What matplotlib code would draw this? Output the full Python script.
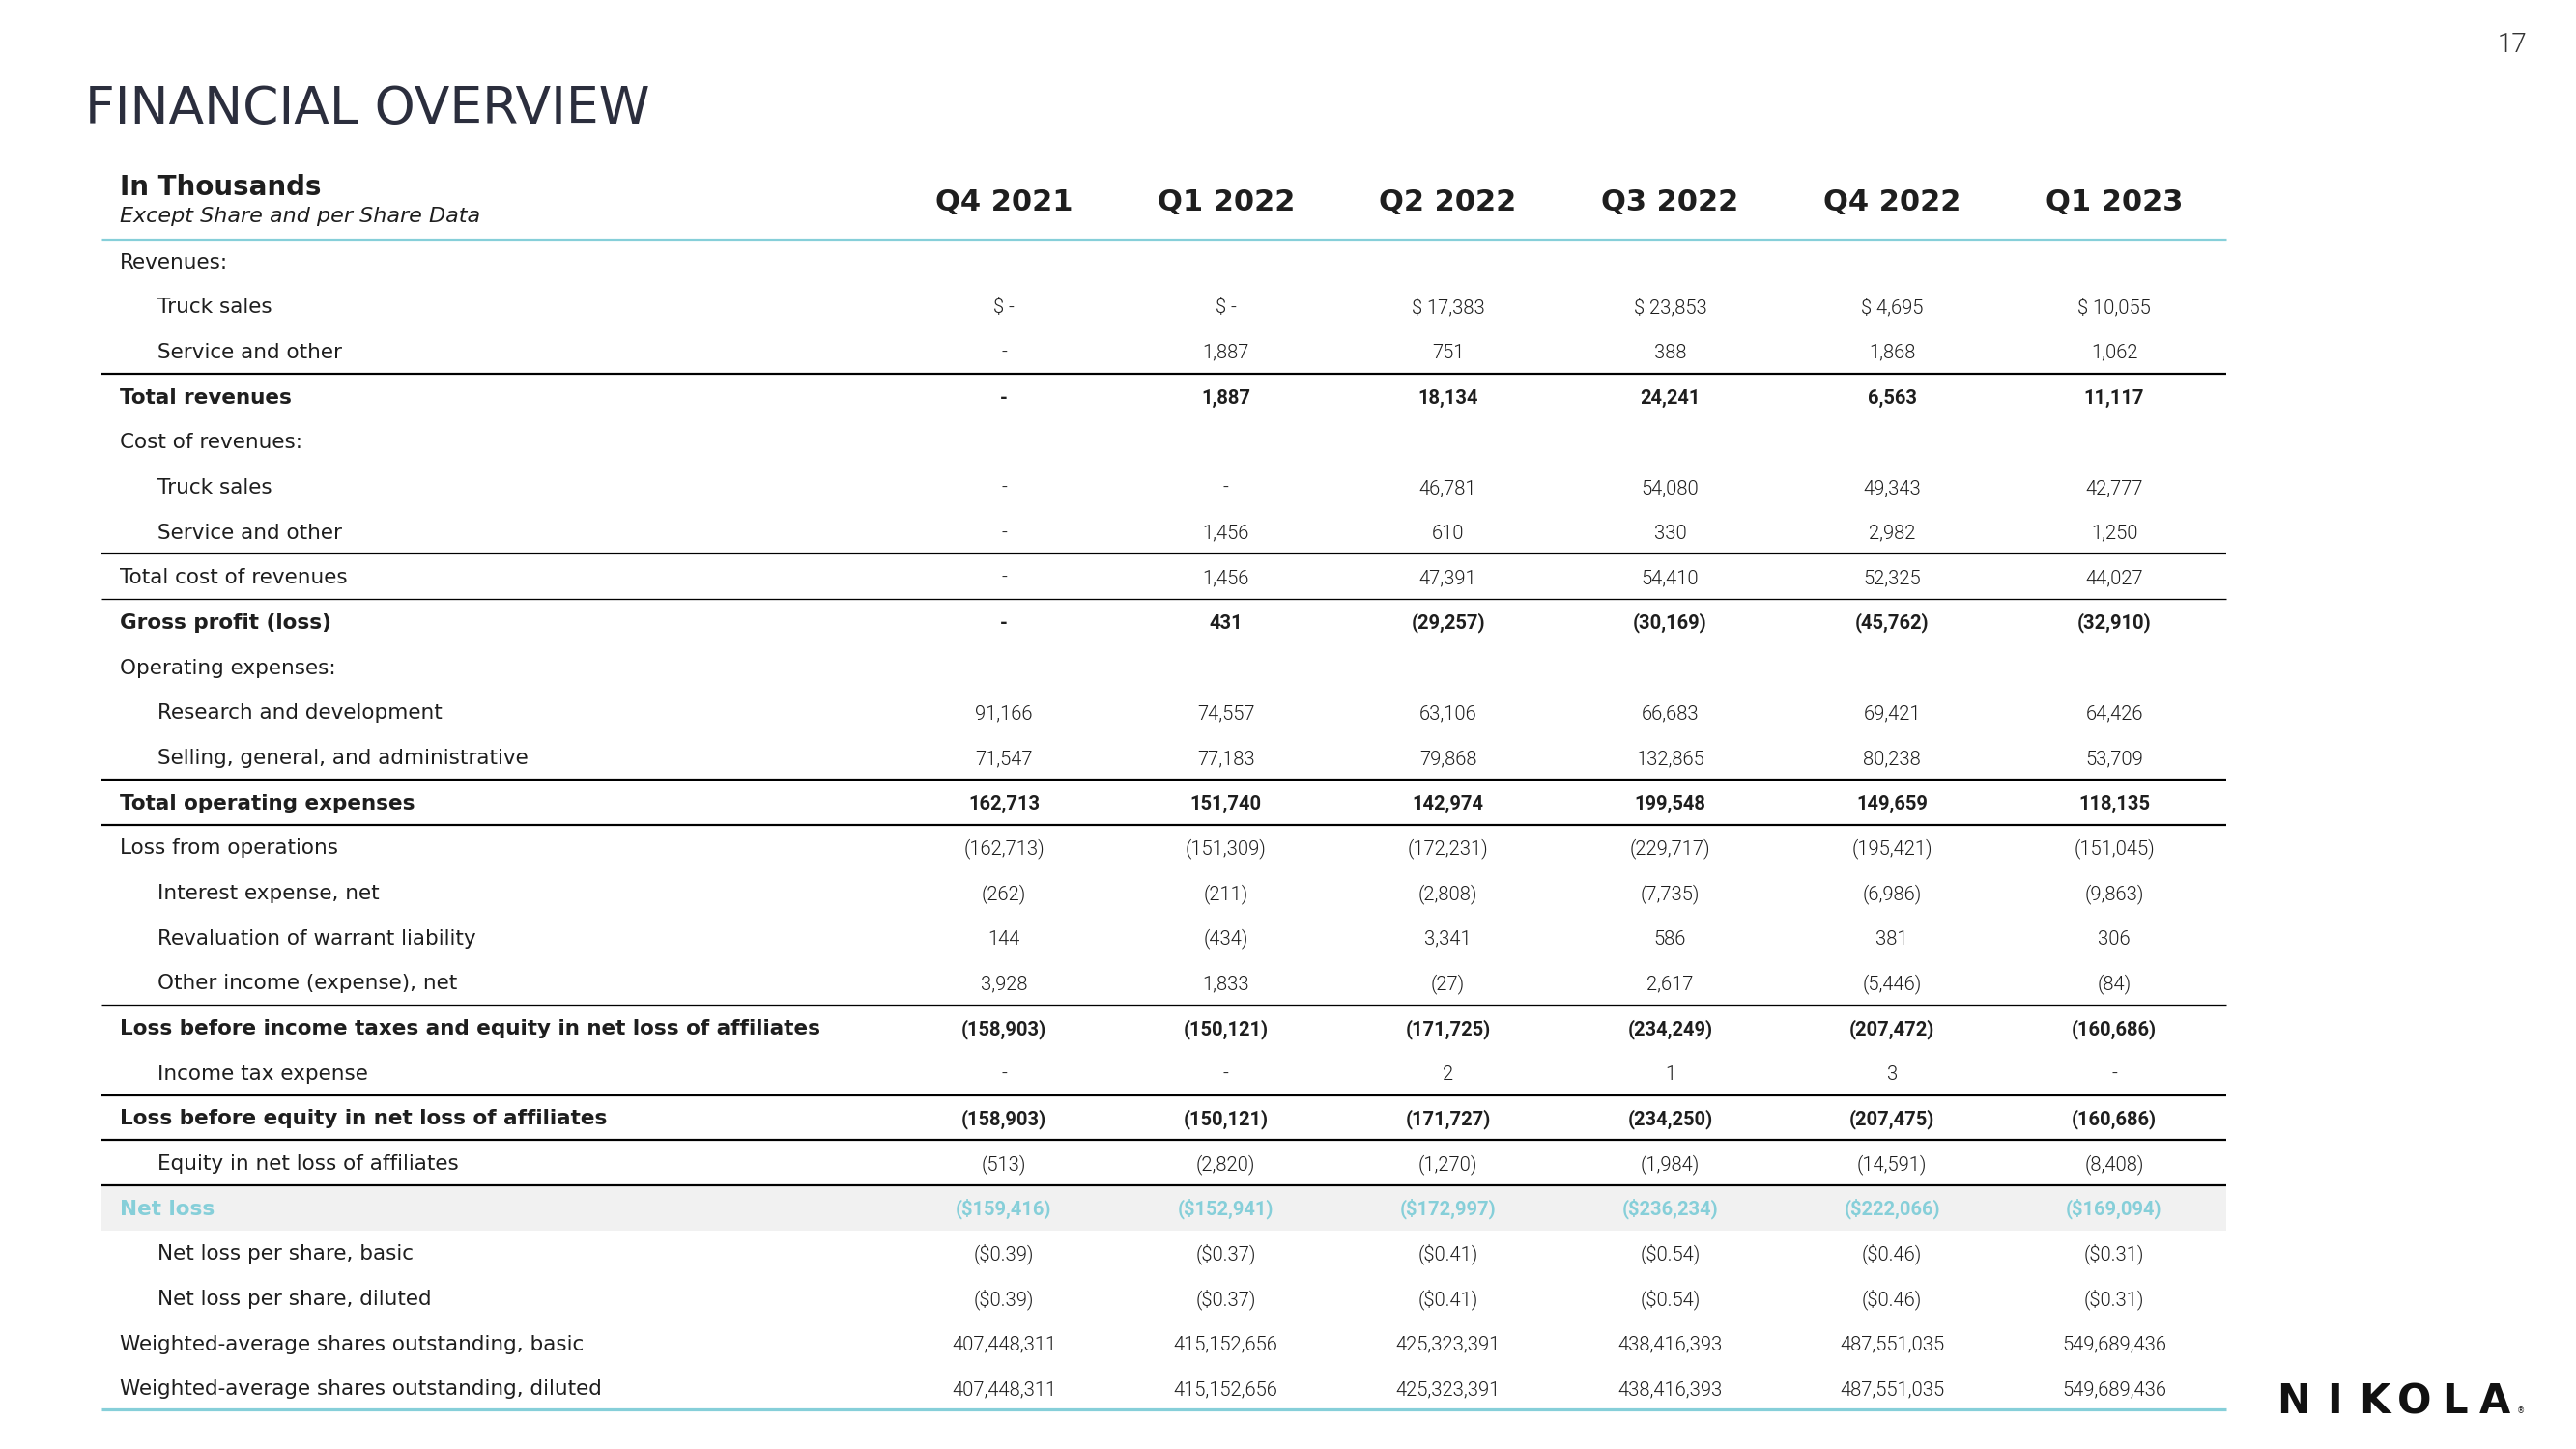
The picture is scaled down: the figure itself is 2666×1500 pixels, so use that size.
import matplotlib
matplotlib.use("Agg")
import matplotlib.pyplot as plt

# ---------------- data ----------------
quarters = ["Q4 2021", "Q1 2022", "Q2 2022", "Q3 2022", "Q4 2022", "Q1 2023"]

truck_sales_rev = [None, None, 17383, 23853, 4695, 10055]
service_rev = [None, 1887, 751, 388, 1868, 1062]
total_revenues = [None, 1887, 18134, 24241, 6563, 11117]
truck_sales_cost = [None, None, 46781, 54080, 49343, 42777]
service_cost = [None, 1456, 610, 330, 2982, 1250]
total_cost = [None, 1456, 47391, 54410, 52325, 44027]
gross_profit = [None, 431, -29257, -30169, -45762, -32910]
research_dev = [91166, 74557, 63106, 66683, 69421, 64426]
sga = [71547, 77183, 79868, 132865, 80238, 53709]
total_opex = [162713, 151740, 142974, 199548, 149659, 118135]
loss_from_ops = [-162713, -151309, -172231, -229717, -195421, -151045]
interest_expense = [-262, -211, -2808, -7735, -6986, -9863]
warrant_revaluation = [144, -434, 3341, 586, 381, 306]
other_income = [3928, 1833, -27, 2617, -5446, -84]
loss_before_taxes = [-158903, -150121, -171725, -234249, -207472, -160686]
income_tax = [None, None, 2, 1, 3, None]
loss_before_equity = [-158903, -150121, -171727, -234250, -207475, -160686]
equity_affiliates = [-513, -2820, -1270, -1984, -14591, -8408]
net_loss = [-159416, -152941, -172997, -236234, -222066, -169094]
eps_basic = [-0.39, -0.37, -0.41, -0.54, -0.46, -0.31]
eps_diluted = [-0.39, -0.37, -0.41, -0.54, -0.46, -0.31]
shares_basic = [407448311, 415152656, 425323391, 438416393, 487551035, 549689436]
shares_diluted = [407448311, 415152656, 425323391, 438416393, 487551035, 549689436]

# (label, values, indent, kind, style)
rows = [
    ("Revenues:", None, False, "normal", "plain"),
    ("Truck sales", truck_sales_rev, True, "normal", "dollar"),
    ("Service and other", service_rev, True, "normal", "plain"),
    ("Total revenues", total_revenues, False, "bold", "plain"),
    ("Cost of revenues:", None, False, "normal", "plain"),
    ("Truck sales", truck_sales_cost, True, "normal", "plain"),
    ("Service and other", service_cost, True, "normal", "plain"),
    ("Total cost of revenues", total_cost, False, "normal", "plain"),
    ("Gross profit (loss)", gross_profit, False, "bold", "plain"),
    ("Operating expenses:", None, False, "normal", "plain"),
    ("Research and development", research_dev, True, "normal", "plain"),
    ("Selling, general, and administrative", sga, True, "normal", "plain"),
    ("Total operating expenses", total_opex, False, "bold", "plain"),
    ("Loss from operations", loss_from_ops, False, "normal", "plain"),
    ("Interest expense, net", interest_expense, True, "normal", "plain"),
    ("Revaluation of warrant liability", warrant_revaluation, True, "normal", "plain"),
    ("Other income (expense), net", other_income, True, "normal", "plain"),
    ("Loss before income taxes and equity in net loss of affiliates", loss_before_taxes, False, "bold", "plain"),
    ("Income tax expense", income_tax, True, "normal", "plain"),
    ("Loss before equity in net loss of affiliates", loss_before_equity, False, "bold", "plain"),
    ("Equity in net loss of affiliates", equity_affiliates, True, "normal", "plain"),
    ("Net loss", net_loss, False, "net", "netloss"),
    ("Net loss per share, basic", eps_basic, True, "normal", "eps"),
    ("Net loss per share, diluted", eps_diluted, True, "normal", "eps"),
    ("Weighted-average shares outstanding, basic", shares_basic, False, "normal", "plain"),
    ("Weighted-average shares outstanding, diluted", shares_diluted, False, "normal", "plain"),
]

# separator lines drawn after row index: (row, linewidth in px)
separators = [(2, 2.2), (6, 2.2), (7, 1.3), (11, 2.2), (12, 2.2), (16, 1.3),
              (18, 2.2), (19, 2.2), (20, 2.2)]


def fmt(v, style):
    if v is None:
        return "$ -" if style == "dollar" else "-"
    if style == "dollar":
        return "$ " + f"{v:,}"
    if style == "netloss":
        return f"(${-v:,})" if v < 0 else f"${v:,}"
    if style == "eps":
        return f"(${-v:.2f})" if v < 0 else f"${v:.2f}"
    return f"({-v:,})" if v < 0 else f"{v:,}"


# ---------------- layout ----------------
W, H = 2666, 1500
fig = plt.figure(figsize=(W / 100, H / 100), dpi=100)
ax = fig.add_axes([0, 0, 1, 1])
ax.set_xlim(0, W)
ax.set_ylim(H, 0)
ax.axis("off")

PX = 0.72  # points per pixel at dpi 100
ROW0, STEP = 270, 46.68
LABEL_X, INDENT_X = 124, 163
COL0, COLSTEP = 1039, 229.8
LX0, LX1 = 105, 2304
TEAL = "#86cfd9"
TXT = "#1e1e1e"
LABEL_FONT = ["DejaVu Sans"]
VALUE_FONT = ["Roboto", "DejaVu Sans"]


def ry(i):
    return ROW0 + i * STEP


# title & page number
ax.text(88, 128, "FINANCIAL OVERVIEW", fontsize=38.5, color="#2b2e3d",
        family=LABEL_FONT, va="baseline", ha="left")
ax.text(2615, 54, "17", fontsize=20, color="#333333", family=VALUE_FONT,
        fontweight=300, va="baseline", ha="right")

# header
ax.text(124, 202, "In Thousands", fontsize=20, fontweight="bold", color=TXT,
        family=LABEL_FONT, va="baseline", ha="left")
ax.text(124, 230, "Except Share and per Share Data", fontsize=16, style="italic",
        color=TXT, family=LABEL_FONT, va="baseline", ha="left")
for j, q in enumerate(quarters):
    ax.text(COL0 + j * COLSTEP, 218, q, fontsize=22, fontweight="bold", color=TXT,
            family=LABEL_FONT, va="baseline", ha="center")

# teal rules
ax.plot([LX0, LX1], [248, 248], color=TEAL, lw=3.2 * PX, solid_capstyle="butt")
ax.plot([LX0, LX1], [1459, 1459], color=TEAL, lw=3.2 * PX, solid_capstyle="butt")

# net loss band
net_idx = [i for i, r in enumerate(rows) if r[3] == "net"][0]
ax.fill_between([LX0, LX1], ry(net_idx) - STEP / 2, ry(net_idx) + STEP / 2,
                color="#f1f1f1", lw=0, zorder=0)

# separators
for r, lw in separators:
    y = ry(r) + STEP / 2
    ax.plot([LX0, LX1], [y, y], color="black", lw=lw * PX, solid_capstyle="butt")

# rows
for i, (label, vals, indent, kind, style) in enumerate(rows):
    y = ry(i) + 7.5
    weight = "bold" if kind in ("bold", "net") else "normal"
    color = TEAL if kind == "net" else TXT
    ax.text(INDENT_X if indent else LABEL_X, y, label, fontsize=15.5, fontweight=weight,
            color=color, family=LABEL_FONT, va="baseline", ha="left")
    if vals is None:
        continue
    for j, v in enumerate(vals):
        ax.text(COL0 + j * COLSTEP, y, fmt(v, style), fontsize=14.5,
                fontweight="bold" if weight == "bold" else 300, color=color,
                family=VALUE_FONT, va="baseline", ha="center")

# logo
logo = "NIKOLA"
for k, ch in enumerate(logo):
    ax.text(2374 + k * 41.5, 1463, ch, fontsize=30, fontweight="bold", color="#111111",
            family=LABEL_FONT, va="baseline", ha="center")
ax.text(2609, 1463, "®", fontsize=6, color="#111111", family=LABEL_FONT,
        va="baseline", ha="center")

fig.savefig("out.png", dpi=100, facecolor="white")
